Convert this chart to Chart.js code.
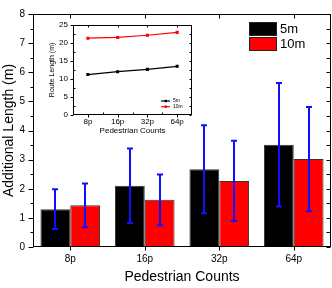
<!DOCTYPE html>
<html><head><meta charset="utf-8">
<script src="https://cdn.jsdelivr.net/npm/chart.js@4/dist/chart.umd.min.js"></script>
<style>
html,body{margin:0;padding:0;background:#fff;}
#wrap{position:relative;width:332px;height:288px;overflow:hidden;}
#main{position:absolute;left:0;top:0;}
#inset{position:absolute;left:40px;top:15px;}
</style></head><body>
<div id="wrap"><canvas id="main" width="332" height="288"></canvas><canvas id="inset" width="160" height="125"></canvas></div>
<script>
const categories = ['8p', '16p', '32p', '64p'];
const seriesLabels = ['5m', '10m'];
const additional5 = [1.30, 2.10, 2.67, 3.51];
const additional10 = [1.43, 1.62, 2.27, 3.02];
const error5 = [0.68, 1.28, 1.51, 2.12];
const error10 = [0.75, 0.87, 1.38, 1.79];
const route5 = [11.2, 12.0, 12.65, 13.5];
const route10 = [21.3, 21.5, 22.1, 22.9];
const mainYTicks = [0, 1, 2, 3, 4, 5, 6, 7, 8];
const insetYTicks = [0, 5, 10, 15, 20, 25];

const FONT = "'Liberation Sans', Arial, Helvetica, sans-serif";
const errors = [error5, error10];

const errorBarPlugin = {
  id: 'errorBars',
  afterDatasetsDraw(chart) {
    const ctx = chart.ctx, y = chart.scales.y;
    ctx.save();
    ctx.strokeStyle = '#1010ff';
    ctx.lineWidth = 2;
    chart.data.datasets.forEach((ds, di) => {
      const meta = chart.getDatasetMeta(di);
      meta.data.forEach((el, i) => {
        const v = ds.data[i], e = errors[di][i];
        const yt = y.getPixelForValue(v + e), yb = y.getPixelForValue(v - e);
        const x = Math.round(el.x);
        ctx.beginPath();
        ctx.moveTo(x, yt); ctx.lineTo(x, yb);
        ctx.moveTo(x - 3, yt); ctx.lineTo(x + 3, yt);
        ctx.moveTo(x - 3, yb); ctx.lineTo(x + 3, yb);
        ctx.stroke();
      });
    });
    ctx.restore();
  }
};

const mainFramePlugin = {
  id: 'mainFrame',
  afterDraw(chart) {
    const ctx = chart.ctx, {left, right, top, bottom} = chart.chartArea;
    const x = chart.scales.x, y = chart.scales.y;
    const L = Math.round(left) + 0.5, R = Math.round(right) - 0.5, T = Math.round(top) + 0.5, B = Math.round(bottom) - 0.5;
    ctx.save();
    ctx.strokeStyle = '#000'; ctx.lineWidth = 1;
    ctx.strokeRect(L, T, R - L, B - T);
    ctx.beginPath();
    for (let v = 0; v <= 8.001; v += 0.5) {
      const py = Math.round(y.getPixelForValue(v)) + 0.5;
      const major = Math.abs(v - Math.round(v)) < 1e-6;
      ctx.moveTo(L, py); ctx.lineTo(L - (major ? 5 : 3), py);
      ctx.moveTo(R, py); ctx.lineTo(R - 4, py);
    }
    categories.forEach((c, i) => {
      const px = Math.round(x.getPixelForValue(i)) + 0.5;
      ctx.moveTo(px, B); ctx.lineTo(px, B + 4);
      ctx.moveTo(px, T); ctx.lineTo(px, T + 4);
    });
    ctx.stroke();
    // legend
    ctx.font = '13px ' + FONT;
    ctx.textBaseline = 'middle';
    ctx.textAlign = 'left';
    chart.data.datasets.forEach((ds, i) => {
      const by = 22.5 + i * 15;
      ctx.fillStyle = ds.backgroundColor;
      ctx.fillRect(249.5, by, 27, 13);
      ctx.strokeStyle = '#222';
      ctx.strokeRect(249.5, by, 27, 13);
      ctx.fillStyle = '#000';
      ctx.fillText(ds.label, 280, by + 7);
    });
    ctx.restore();
  }
};

new Chart(document.getElementById('main'), {
  type: 'bar',
  data: {
    labels: categories,
    datasets: [
      {label: seriesLabels[0], data: additional5, backgroundColor: '#000000', borderColor: '#333', borderWidth: 1},
      {label: seriesLabels[1], data: additional10, backgroundColor: '#ff0000', borderColor: '#333', borderWidth: 1}
    ]
  },
  options: {
    responsive: false, animation: false, devicePixelRatio: 1,
    layout: {padding: {top: 6, right: 1, left: 0, bottom: 0}},
    datasets: {bar: {barPercentage: 1, categoryPercentage: 0.8}},
    plugins: {legend: {display: false}, tooltip: {enabled: false}},
    scales: {
      x: {
        grid: {display: false, drawTicks: false}, border: {display: false},
        ticks: {padding: 6, color: '#000', font: {family: FONT, size: 10}},
        title: {display: true, text: 'Pedestrian Counts', color: '#000', font: {family: FONT, size: 14}, padding: {top: 0, bottom: 2}},
        afterFit(s) { s.height = 41; }
      },
      y: {
        min: 0, max: 8,
        afterBuildTicks(s) { s.ticks = mainYTicks.map(v => ({value: v})); },
        grid: {display: false, drawTicks: false}, border: {display: false},
        ticks: {padding: 8, color: '#000', font: {family: FONT, size: 10}},
        title: {display: true, text: 'Additional Length (m)', color: '#000', font: {family: FONT, size: 14}, padding: {top: 1, bottom: 0}},
        afterFit(s) { s.width = 33; }
      }
    }
  },
  plugins: [errorBarPlugin, mainFramePlugin]
});

const insetFramePlugin = {
  id: 'insetFrame',
  beforeDraw(chart) {
    const ctx = chart.ctx, {left, right, top, bottom} = chart.chartArea;
    ctx.save(); ctx.fillStyle = '#fff';
    ctx.fillRect(left, top, right - left, bottom - top);
    ctx.restore();
  },
  afterDraw(chart) {
    const ctx = chart.ctx, {left, right, top, bottom} = chart.chartArea;
    const x = chart.scales.x, y = chart.scales.y;
    const L = Math.round(left) + 0.5, R = Math.round(right) - 0.5, T = Math.round(top) + 0.5, B = Math.round(bottom) - 0.5;
    ctx.save();
    ctx.strokeStyle = '#000'; ctx.lineWidth = 1;
    ctx.strokeRect(L, T, R - L, B - T);
    ctx.beginPath();
    for (let v = 0; v <= 25.001; v += 2.5) {
      const py = Math.round(y.getPixelForValue(v)) + 0.5;
      const major = Math.abs(v / 5 - Math.round(v / 5)) < 1e-6;
      if (major) { ctx.moveTo(L, py); ctx.lineTo(L - 3, py); }
      else { ctx.moveTo(L, py); ctx.lineTo(L + 2, py); }
      ctx.moveTo(R, py); ctx.lineTo(R - 2, py);
    }
    categories.forEach((c, i) => {
      const px = Math.round(x.getPixelForValue(i)) + 0.5;
      ctx.moveTo(px, B); ctx.lineTo(px, B + 3);
      ctx.moveTo(px, T); ctx.lineTo(px, T + 2);
      if (i > 0) {
        const pm = Math.round((x.getPixelForValue(i) + x.getPixelForValue(i - 1)) / 2) + 0.5;
        ctx.moveTo(pm, B); ctx.lineTo(pm, B - 2);
      }
    });
    ctx.stroke();
    // legend
    ctx.font = '5px ' + FONT;
    ctx.textBaseline = 'middle'; ctx.textAlign = 'left';
    chart.data.datasets.forEach((ds, i) => {
      const ly = 86 + i * 5.7;
      ctx.strokeStyle = ds.borderColor; ctx.fillStyle = ds.borderColor; ctx.lineWidth = 1.2;
      ctx.beginPath(); ctx.moveTo(121, ly); ctx.lineTo(130, ly); ctx.stroke();
      ctx.fillRect(124.5, ly - 1.2, 2.4, 2.4);
      ctx.fillStyle = '#000';
      ctx.fillText(ds.label, 133, ly);
    });
    ctx.restore();
  }
};

new Chart(document.getElementById('inset'), {
  type: 'line',
  data: {
    labels: categories,
    datasets: [
      {label: seriesLabels[0], data: route5, borderColor: '#000', backgroundColor: '#000', borderWidth: 1.2, pointStyle: 'rect', pointRadius: 1.3, tension: 0},
      {label: seriesLabels[1], data: route10, borderColor: '#ff0000', backgroundColor: '#ff0000', borderWidth: 1.2, pointStyle: 'rect', pointRadius: 1.3, tension: 0}
    ]
  },
  options: {
    responsive: false, animation: false, devicePixelRatio: 1,
    layout: {padding: {top: 8, right: 8, left: 0, bottom: 0}},
    plugins: {legend: {display: false}, tooltip: {enabled: false}},
    scales: {
      x: {
        offset: true,
        grid: {display: false, drawTicks: false}, border: {display: false},
        ticks: {padding: 2, color: '#000', font: {family: FONT, size: 8}},
        title: {display: true, text: 'Pedestrian Counts', color: '#000', font: {family: FONT, size: 8}, padding: {top: 0, bottom: 4}},
        afterFit(s) { s.height = 25; }
      },
      y: {
        min: 0, max: 25,
        afterBuildTicks(s) { s.ticks = insetYTicks.map(v => ({value: v})); },
        grid: {display: false, drawTicks: false}, border: {display: false},
        ticks: {padding: 5, color: '#000', font: {family: FONT, size: 8}},
        title: {display: true, text: 'Route Length (m)', color: '#000', font: {family: FONT, size: 7}, padding: {top: 8, bottom: 0}},
        afterFit(s) { s.width = 33; }
      }
    }
  },
  plugins: [insetFramePlugin]
});
</script>
</body></html>
